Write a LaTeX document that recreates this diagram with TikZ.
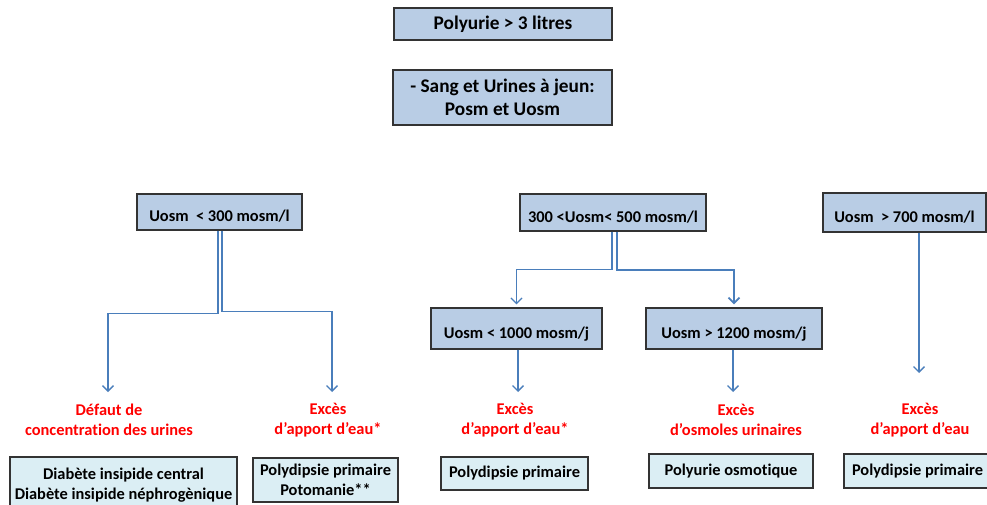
\documentclass[tikz,border=0pt]{standalone}
\usepackage{fontspec}
\setmainfont{Carlito}[Ligatures={NoCommon,NoContextual}]
\usetikzlibrary{arrows.meta}
\definecolor{boxblue}{HTML}{B9CDE5}
\definecolor{boxcyan}{HTML}{DBEEF4}
\definecolor{linkblue}{HTML}{4A7EBB}
\begin{document}
\begin{tikzpicture}[x=1pt,y=-1pt,
    test/.style={draw=black!80,line width=1.2pt,fill=boxblue,inner sep=0,align=center,
      font=\fontsize{16.4}{20}\selectfont\bfseries},
    bigtest/.style={test,font=\fontsize{19.3}{23}\selectfont\bfseries},
    lowtext/.style={text height=24pt,text depth=4pt},
    result/.style={draw=black!80,line width=1.2pt,fill=boxcyan,inner sep=0,align=center,
      font=\fontsize{16.4}{20}\selectfont\bfseries},
    cause/.style={text=red,align=center,inner sep=0,font=\fontsize{16.4}{20}\selectfont\bfseries},
    link/.style={draw=linkblue,line width=1.3pt,-{Straight Barb[length=5.5pt,width=11pt]}}]
    \useasboundingbox (0,0) rectangle (987,505);
    \fill[white] (0,0) rectangle (987,505);
    % top of the tree
    \node[bigtest,minimum width=218,minimum height=32] (polyurie) at (503,24) {Polyurie > 3 litres};
    \node[bigtest,minimum width=219,minimum height=55] (sangurines) at (502.5,97.5) {- Sang et Urines à jeun:\\Posm et Uosm};
    % urine osmolality
    \node[test,lowtext,minimum width=165,minimum height=36] (uosmlow) at (219.5,212) {Uosm~ < 300 mosm/l};
    \node[test,lowtext,minimum width=186,minimum height=37] (uosmmid) at (613,212.5) {300 <Uosm< 500 mosm/l};
    \node[test,lowtext,minimum width=163,minimum height=39] (uosmhigh) at (904.5,212.5) {Uosm~ > 700 mosm/l};
    \node[test,lowtext,minimum width=171,minimum height=41] (uosmjlow) at (516.5,328.5) {Uosm < 1000 mosm/j};
    \node[test,lowtext,minimum width=176,minimum height=41] (uosmjhigh) at (734,328.5) {Uosm > 1200 mosm/j};
    % causes
    \node[cause] (defaut) at (109,420) {Défaut de\\concentration des urines};
    \node[cause] (excesA) at (328,420) {Excès\\d’apport d’eau*};
    \node[cause] (excesB) at (515,420) {Excès\\d’apport d’eau*};
    \node[cause] (osmoles) at (736,420) {Excès\\d’osmoles urinaires};
    \node[cause] (excesC) at (920,420) {Excès\\d’apport d’eau};
    % diagnoses
    \node[result,minimum width=227,minimum height=56] (diabete) at (123.5,485) {Diabète insipide central\\Diabète insipide néphrogènique};
    \node[result,minimum width=145,minimum height=44] (polydipsieA) at (325.5,480) {Polydipsie primaire\\Potomanie**};
    \node[result,minimum width=147,minimum height=33] (polydipsieB) at (514.5,473.5) {Polydipsie primaire};
    \node[result,minimum width=164,minimum height=34] (polyurieosm) at (731,471) {Polyurie osmotique};
    \node[result,minimum width=147,minimum height=34] (polydipsieC) at (917.5,471) {Polydipsie primaire};
    % arrow ends
    \coordinate (tipdefaut) at (108,392);
    \coordinate (tipexcesA) at (332,392);
    \coordinate (tipexcesB) at (518,392);
    \coordinate (tiposmoles) at (733,392);
    \coordinate (tipexcesC) at (919,373);
    \draw[link] ([xshift=-1.5pt]uosmlow.south) -- ++(0,83) -| (tipdefaut);
    \draw[link] ([xshift=2.5pt]uosmlow.south) -- ++(0,81) -| (tipexcesA);
    \draw[link] ([xshift=-1pt]uosmmid.south) -- ++(0,38) -| ([yshift=3pt]uosmjlow.north);
    \draw[link,line width=1.8pt] ([xshift=4pt]uosmmid.south) -- ++(0,38) -| ([yshift=3pt]uosmjhigh.north);
    \draw[link] (uosmjlow.south -| tipexcesB) -- (tipexcesB);
    \draw[link] (uosmjhigh.south -| tiposmoles) -- (tiposmoles);
    \draw[link] (uosmhigh.south -| tipexcesC) -- (tipexcesC);
\end{tikzpicture}
\end{document}
